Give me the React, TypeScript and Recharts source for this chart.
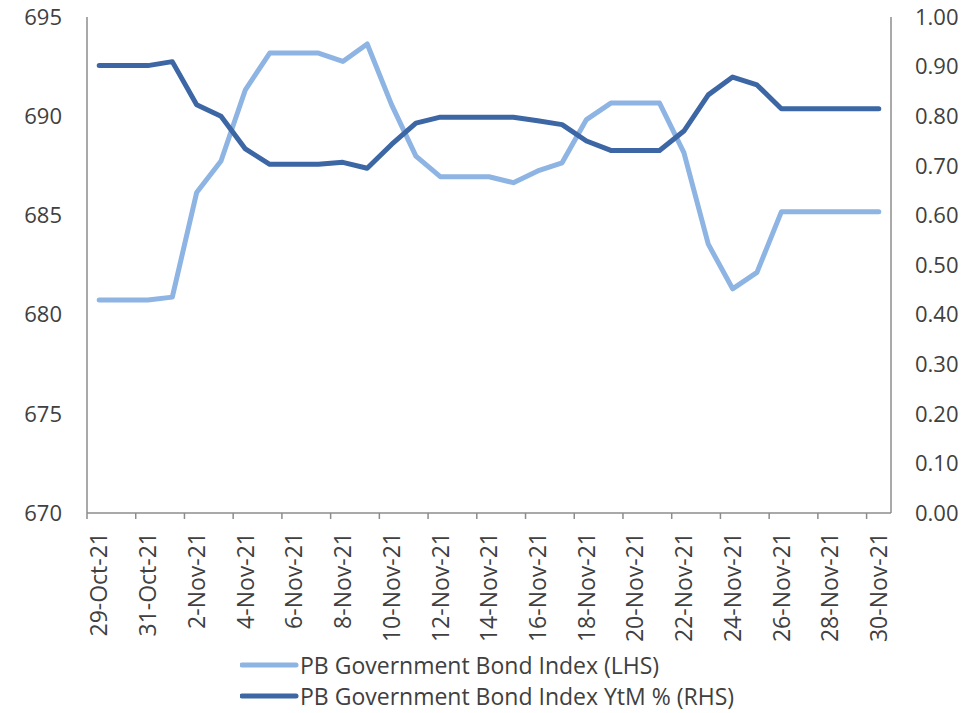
import { LineChart, Line, XAxis, YAxis, Legend } from "recharts";

const dates = [
  "29-Oct-21", "30-Oct-21", "31-Oct-21", "1-Nov-21", "2-Nov-21", "3-Nov-21",
  "4-Nov-21", "5-Nov-21", "6-Nov-21", "7-Nov-21", "8-Nov-21", "9-Nov-21",
  "10-Nov-21", "11-Nov-21", "12-Nov-21", "13-Nov-21", "14-Nov-21", "15-Nov-21",
  "16-Nov-21", "17-Nov-21", "18-Nov-21", "19-Nov-21", "20-Nov-21", "21-Nov-21",
  "22-Nov-21", "23-Nov-21", "24-Nov-21", "25-Nov-21", "26-Nov-21", "27-Nov-21",
  "28-Nov-21", "29-Nov-21", "30-Nov-21"
];

// PB Government Bond Index (LHS)
const indexValues = [
  680.74, 680.74, 680.74, 680.88, 686.15, 687.74, 691.33, 693.18, 693.18, 693.18,
  692.76, 693.64, 690.58, 687.99, 686.95, 686.95, 686.95, 686.65, 687.24, 687.65,
  689.83, 690.66, 690.66, 690.66, 688.16, 683.55, 681.3, 682.13, 685.18, 685.18,
  685.18, 685.18, 685.18
];

// PB Government Bond Index YtM % (RHS)
const ytmValues = [
  0.902, 0.902, 0.902, 0.91, 0.823, 0.8, 0.734, 0.703, 0.703, 0.703,
  0.707, 0.695, 0.743, 0.786, 0.798, 0.798, 0.798, 0.798, 0.791, 0.783,
  0.75, 0.731, 0.731, 0.731, 0.77, 0.843, 0.879, 0.863, 0.815, 0.815,
  0.815, 0.815, 0.815
];

const leftTicks = [670, 675, 680, 685, 690, 695];
const rightTicks = [0, 0.1, 0.2, 0.3, 0.4, 0.5, 0.6, 0.7, 0.8, 0.9, 1.0];

const data = dates.map((d, i) => ({ date: d, index: indexValues[i], ytm: ytmValues[i] }));

const LIGHT = "#8db4e2";
const DARK = "#3c66a4";
const AXIS = "#8c8c8c";
const TEXT = "#404040";
const FONT = "'Open Sans', sans-serif";
const HALF_STEP = 12.2;

const DateTick = (props: any) => {
  const { x, y, payload } = props;
  return (
    <g transform={`translate(${x},${y})`}>
      <line x1={-HALF_STEP} x2={-HALF_STEP} y1={0} y2={6} stroke={AXIS} strokeWidth={1.5} />
      <text
        transform="rotate(-90)"
        x={-19}
        y={0}
        dy="0.36em"
        textAnchor="end"
        fill={TEXT}
        fontSize={23}
        fontFamily={FONT}
      >
        {payload.value}
      </text>
    </g>
  );
};

const legendItems = [
  { label: "PB Government Bond Index (LHS)", color: LIGHT },
  { label: "PB Government Bond Index YtM % (RHS)", color: DARK }
];

const LegendBox = () => (
  <div style={{ paddingTop: 6, fontFamily: FONT, fontSize: 23, color: TEXT }}>
    {legendItems.map((it) => (
      <div key={it.label} style={{ display: "flex", alignItems: "center", height: 31 }}>
        <svg width={60} height={10}>
          <line x1={2} x2={56} y1={5} y2={5} stroke={it.color} strokeWidth={5} strokeLinecap="round" />
        </svg>
        <span style={{ whiteSpace: "nowrap" }}>{it.label}</span>
      </div>
    ))}
  </div>
);

export default function App() {
  return (
    <div style={{ position: "absolute", left: 0, top: 0, background: "#fff" }}>
      <LineChart width={975} height={713} data={data} margin={{ top: 17, right: 0, bottom: 0, left: 0 }}>
        <XAxis
          dataKey="date"
          interval={1}
          height={130}
          padding={{ left: HALF_STEP, right: HALF_STEP }}
          axisLine={{ stroke: AXIS, strokeWidth: 1.5 }}
          tickLine={false}
          tickSize={0}
          tickMargin={0}
          tick={<DateTick />}
        />
        <YAxis
          yAxisId="left"
          orientation="left"
          width={87}
          domain={[670, 695]}
          ticks={leftTicks}
          axisLine={{ stroke: AXIS, strokeWidth: 1.5 }}
          tickLine={false}
          tickMargin={19}
          tick={{ fill: TEXT, fontSize: 22, fontFamily: FONT }}
        />
        <YAxis
          yAxisId="right"
          orientation="right"
          width={84}
          domain={[0, 1]}
          ticks={rightTicks}
          tickFormatter={(v: number) => v.toFixed(2)}
          axisLine={{ stroke: AXIS, strokeWidth: 1.5 }}
          tickLine={false}
          tickMargin={18}
          tick={{ fill: TEXT, fontSize: 22, fontFamily: FONT }}
        />
        <Legend
          verticalAlign="bottom"
          height={70}
          content={<LegendBox />}
          wrapperStyle={{ left: 240, width: "auto" }}
        />
        <Line
          yAxisId="left"
          dataKey="index"
          type="linear"
          stroke={LIGHT}
          strokeWidth={5}
          strokeLinecap="round"
          strokeLinejoin="round"
          dot={false}
          isAnimationActive={false}
        />
        <Line
          yAxisId="right"
          dataKey="ytm"
          type="linear"
          stroke={DARK}
          strokeWidth={5}
          strokeLinecap="round"
          strokeLinejoin="round"
          dot={false}
          isAnimationActive={false}
        />
      </LineChart>
    </div>
  );
}
